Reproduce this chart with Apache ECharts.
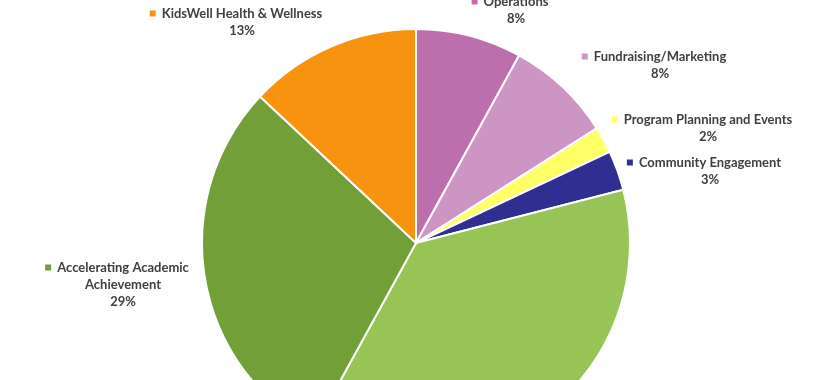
<!DOCTYPE html>
<html>
<head>
<meta charset="utf-8">
<script src="https://cdn.jsdelivr.net/npm/echarts@6/dist/echarts.min.js"></script>
<style>html,body{margin:0;padding:0;background:#fff}#c{width:823px;height:380px}</style>
</head>
<body>
<div id="c"></div>
<script>
const categories = ["Operations", "Fundraising/Marketing", "Program Planning and Events", "Community Engagement", "Program Services", "Accelerating Academic Achievement", "KidsWell Health & Wellness"];
const values = [8, 8, 2, 3, 37, 29, 13];
const colors = ["#BD6FAD", "#CD95C4", "#FFFF66", "#312E91", "#98C455", "#739F39", "#F7930F"];
const showLabel = [true, true, true, true, false, true, true];

// label layout (top-centre of each label block)
const labelPos = [
  [510, -7], [654, 48], [702, 111], [704, 154], [0, 0], [117, 259], [236, 5]
];

const chart = echarts.init(document.getElementById('c'), null, {renderer: 'canvas'});
const total = values.reduce((a, b) => a + b, 0);

function wrapName(n) {
  if (n.length > 28) {
    const i = n.lastIndexOf(' ');
    return [n.slice(0, i), n.slice(i + 1)];
  }
  return [n];
}

chart.setOption({
  animation: false,
  series: [{
    type: 'pie',
    center: [416, 243],
    radius: [0, 214],
    startAngle: 90,
    clockwise: true,
    avoidLabelOverlap: false,
    itemStyle: {borderColor: '#ffffff', borderWidth: 2},
    labelLine: {show: false},
    data: categories.map((c, i) => ({
      name: c,
      value: values[i],
      itemStyle: {color: colors[i]},
      label: {show: showLabel[i]}
    })),
    label: {
      position: 'outside',
      formatter: function (p) {
        const lines = wrapName(p.name);
        const pct = Math.round(p.value / total * 100) + '%';
        let s = '{m' + p.dataIndex + '|}{g|}{n|' + lines[0] + '}';
        for (let k = 1; k < lines.length; k++) s += '\n{s|}{n|' + lines[k] + '}';
        s += '\n{s|}{n|' + pct + '}';
        return s;
      },
      align: 'center',
      rich: Object.assign({
        g: {width: 6, height: 6},
        s: {width: 12, height: 6},
        n: {fontFamily: 'Lato', fontWeight: 'bold', fontSize: 13, color: '#404040', lineHeight: 17}
      }, Object.fromEntries(colors.map((col, i) => ['m' + i, {width: 6, height: 6, backgroundColor: col}])))
    },
    labelLayout: function (params) {
      const p = labelPos[params.dataIndex];
      return {x: p[0], y: p[1], align: 'center', verticalAlign: 'top'};
    }
  }]
});
</script>
</body>
</html>
